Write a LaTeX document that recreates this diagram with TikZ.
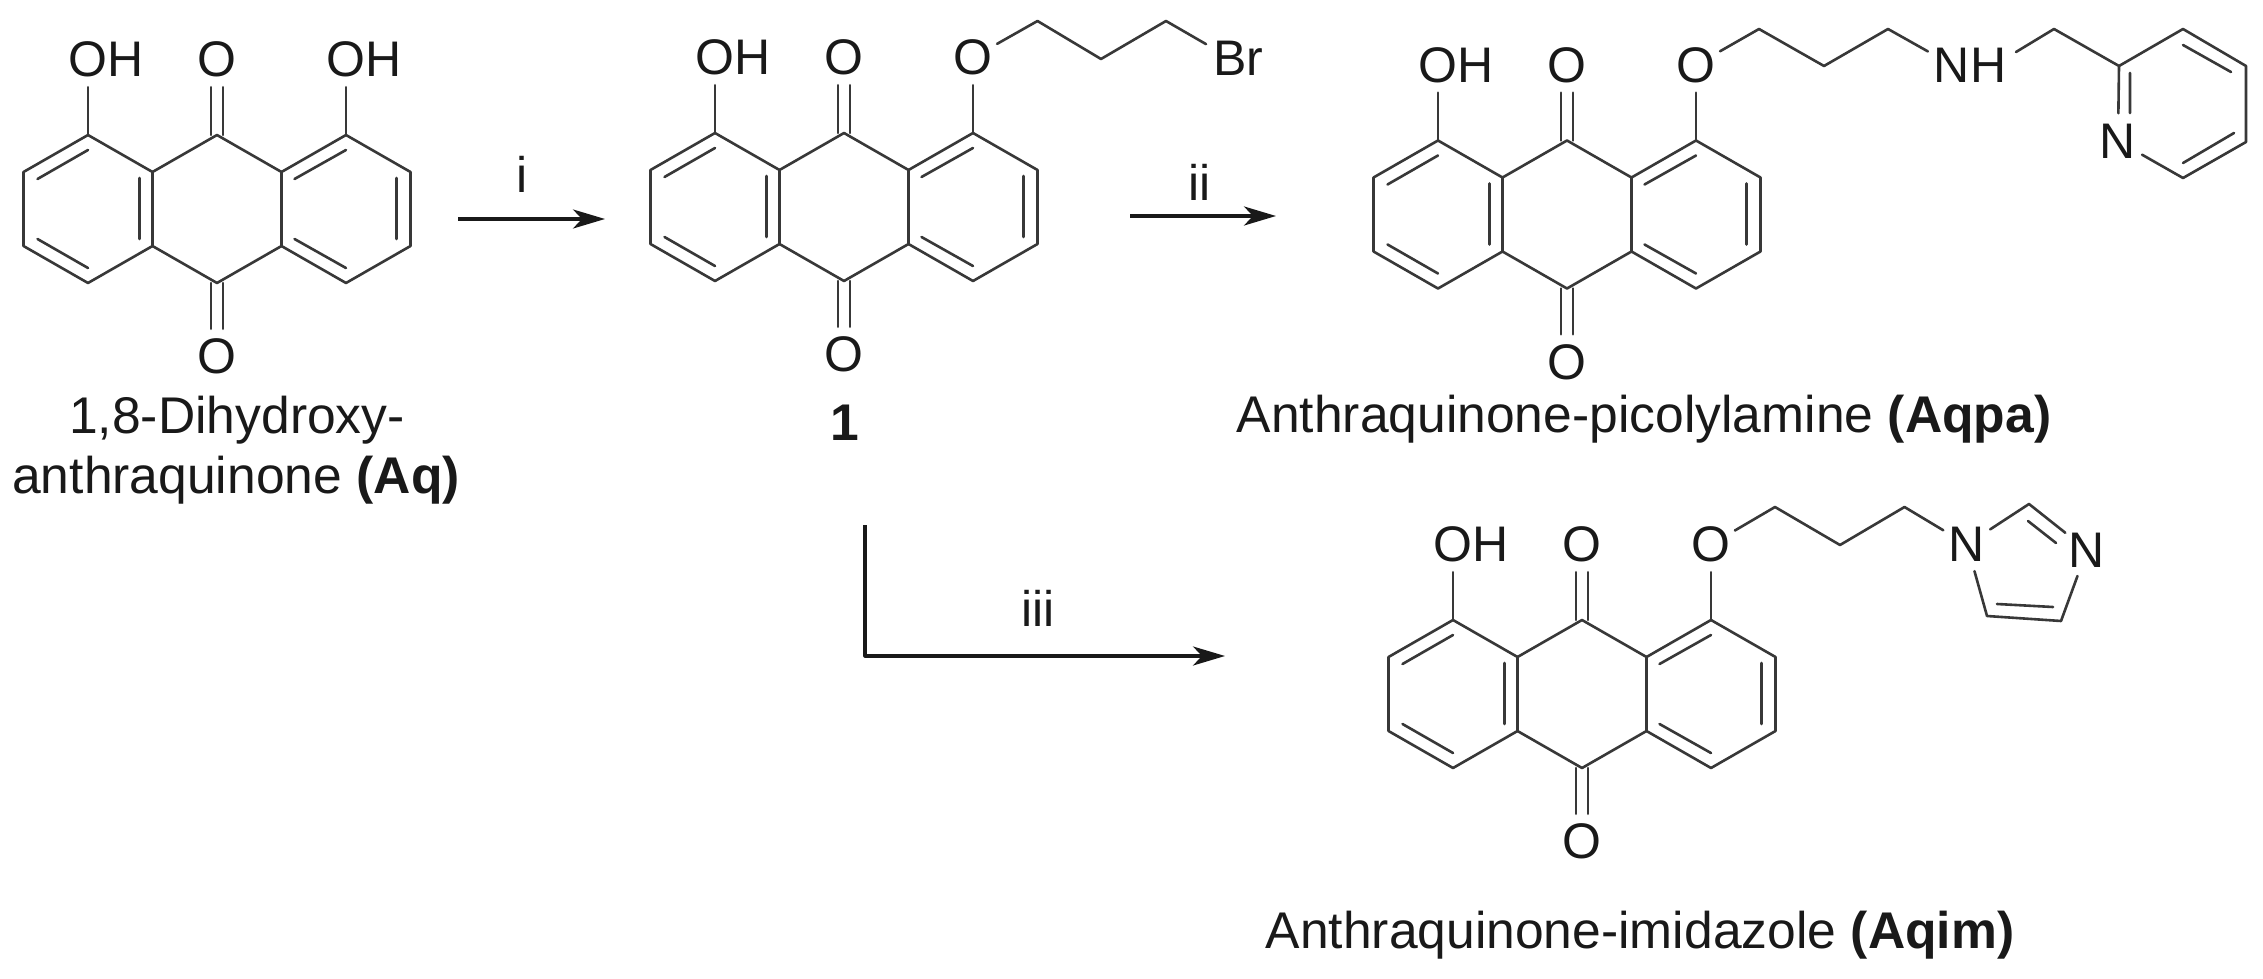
\documentclass[tikz,border=0pt]{standalone}
\usepackage{fontspec}
\setmainfont{Liberation Sans}
\usetikzlibrary{arrows.meta}
\tikzset{
  bond/.style={draw=black!78,line width=2.6pt,line join=round,line cap=round},
  atom/.style={circle,inner sep=0pt,minimum size=55pt,text=black!90,font=\fontsize{50}{55}\selectfont},
  caption/.style={anchor=base,inner sep=0pt,text=black!90,font=\fontsize{51.6}{55}\selectfont},
  reagent/.style={anchor=base,inner sep=0pt,text=black!90,font=\fontsize{50}{55}\selectfont},
  rxn/.style={draw=black!90,line width=3.2pt,line join=round,-{Stealth[length=32pt,width=19pt,inset=9pt]}},
}
\newcommand{\anthra}[4]{%
\begin{scope}[shift={(#2,#3)}]
  \coordinate (#1a) at (-193.5,-37);
  \coordinate (#1b) at (-129,-74);
  \coordinate (#1c) at (-64.5,-37);
  \coordinate (#1d) at (0,-74);
  \coordinate (#1e) at (64.5,-37);
  \coordinate (#1f) at (129,-74);
  \coordinate (#1g) at (193.5,-37);
  \coordinate (#1h) at (193.5,37);
  \coordinate (#1i) at (129,74);
  \coordinate (#1j) at (64.5,37);
  \coordinate (#1k) at (0,74);
  \coordinate (#1l) at (-64.5,37);
  \coordinate (#1m) at (-129,74);
  \coordinate (#1n) at (-193.5,37);
  \node[atom] (#1OL) at (-129,-149.5) {O\rlap{H}};
  \node[atom] (#1OT) at (0,-149.5) {O};
  \node[atom] (#1OR) at (129,-149.5) {#4};
  \node[atom] (#1OB) at (0,147.5) {O};
  \draw[bond] (#1a)--(#1b)--(#1c)--(#1d)--(#1e)--(#1f)--(#1g)--(#1h)--(#1i)--(#1j)--(#1k)--(#1l)--(#1m)--(#1n)--cycle;
  \draw[bond] (#1c)--(#1l) (#1e)--(#1j);
  \draw[bond] (#1b)--(#1OL) (#1f)--(#1OR);
  \draw[bond] ([xshift=-6pt]#1OT.south)--([xshift=-6pt]#1d) ([xshift=6pt]#1OT.south)--([xshift=6pt]#1d);
  \draw[bond] ([xshift=-6pt]#1OB.north)--([xshift=-6pt]#1k) ([xshift=6pt]#1OB.north)--([xshift=6pt]#1k);
  \draw[bond] (-179.5,-30)--(-129,-59) (-77.5,-31)--(-77.5,30) (-179.5,30)--(-129,59);
  \draw[bond] (77.5,-30)--(129,-59) (179.5,-31)--(179.5,30) (77.5,30)--(129,59);
\end{scope}}
\begin{document}
\begin{tikzpicture}[x=1pt,y=-1pt]
\useasboundingbox[fill=white] (0,0) rectangle (2263,979);
% molecules
\anthra{A}{217}{209}{O\rlap{H}}
\anthra{B}{844}{207}{O}
\anthra{C}{1567}{214.5}{O}
\anthra{D}{1582}{694}{O}
% compound 1 chain
\coordinate (b1) at (1037.5,21);
\coordinate (b2) at (1101,59);
\coordinate (b3) at (1166,21);
\node[atom] (br) at (1230,58) {B\rlap{r}};
\draw[bond] (BOR)--(b1)--(b2)--(b3)--(br);
% Aqpa chain and pyridine
\coordinate (c1) at (1759,29);
\coordinate (c2) at (1824,66);
\coordinate (c3) at (1888,29);
\node[atom] (nh) at (1952,65) {N\rlap{H}};
\coordinate (nhR) at (2016,52);
\coordinate (c4) at (2054,29);
\coordinate (p2) at (2119,66);
\coordinate (p3) at (2183,29);
\coordinate (p4) at (2246,66);
\coordinate (p5) at (2246,142);
\coordinate (p6) at (2183,178);
\node[atom] (pn) at (2118,141) {N};
\draw[bond] (COR)--(c1)--(c2)--(c3)--(nh);
\draw[bond] (nhR)--(c4)--(p2)--(p3)--(p4)--(p5)--(p6)--(pn)--(p2);
\draw[bond] (2130,73)--(2130,113) (2183,45)--(2231,72) (2234,133)--(2183,163);
% Aqim chain and imidazole
\coordinate (d1) at (1775,507);
\coordinate (d2) at (1840,545);
\coordinate (d3) at (1904.5,507);
\node[atom] (n1) at (1967,544.5) {N};
\coordinate (i2) at (2029,504);
\node[atom] (n3) at (2087,550) {N};
\coordinate (i4) at (2061,621);
\coordinate (i5) at (1987,616);
\draw[bond] (DOR)--(d1)--(d2)--(d3)--(n1);
\draw[bond] (n1)--(i2)--(n3)--(i4)--(i5)--(n1);
\draw[bond] (2028,521)--(2056,543) (1997,604)--(2053,607);
% captions
\node[caption] (capA1) at (237,433) {1,8-Dihydroxy-};
\node[caption] (capA2) at (236,493) {anthraquinone \textbf{(Aq)}};
\node[caption] (capB) at (845,440) {\textbf{1}};
\node[caption] (capC) at (1644,432) {Anthraquinone-picolylamine \textbf{(Aqpa)}};
\node[caption] (capD) at (1640,948) {Anthraquinone-imidazole \textbf{(Aqim)}};
% reaction arrows
\coordinate (r1s) at (458,219);
\coordinate (r1e) at (605,219);
\coordinate (r2s) at (1130,216);
\coordinate (r2e) at (1276,216);
\coordinate (r3s) at (865,525);
\coordinate (r3e) at (1225,656);
\draw[rxn] (r1s)--(r1e);
\draw[rxn] (r2s)--(r2e);
\draw[rxn] (r3s)|-(r3e);
\node[reagent] (li) at (522,193) {i};
\node[reagent] (lii) at (1199.5,200.7) {ii};
\node[reagent] (liii) at (1038,626) {iii};
\end{tikzpicture}
\end{document}
